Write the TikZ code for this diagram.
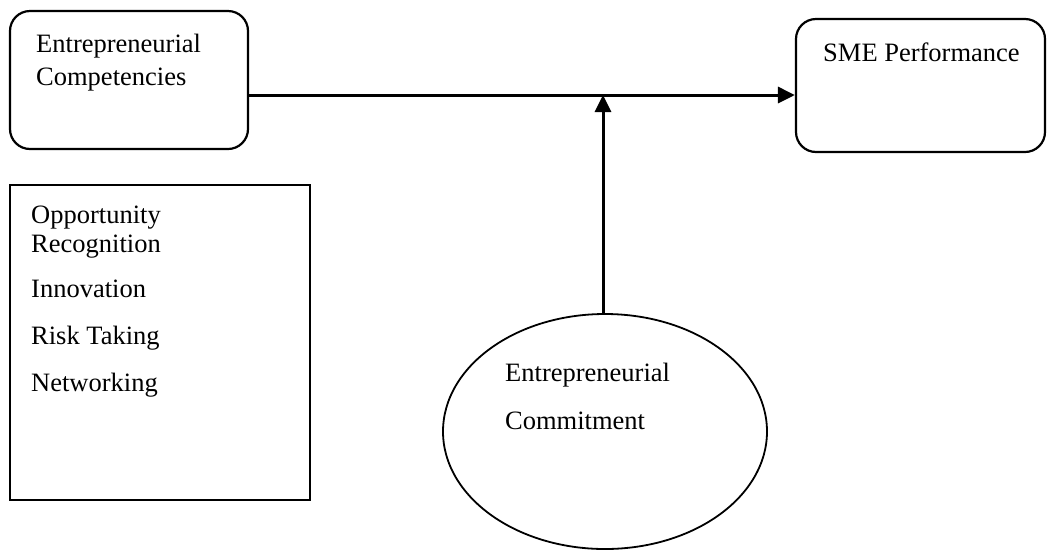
\documentclass[tikz,border=0pt]{standalone}
\usepackage{fontspec}
\setmainfont{Liberation Serif}
\usetikzlibrary{arrows.meta,shapes.geometric}

\tikzset{
  roundbox/.style={draw, line width=2.2pt, rounded corners=20pt, inner sep=0pt},
  listbox/.style={draw, line width=2.6pt, inner sep=0pt},
  oval/.style={draw, ellipse, line width=1.8pt, inner sep=0pt},
  txt/.style={anchor=base west, inner sep=0pt, font=\fontsize{26.5}{30}\selectfont},
  link/.style={line width=3pt, -{Triangle[length=17pt,width=16pt]}}
}

\begin{document}
\begin{tikzpicture}[x=1pt,y=-1pt]
  \useasboundingbox (0,0) rectangle (1047,550);

  % main shapes
  \node[roundbox, minimum width=238pt, minimum height=138pt] (ec) at (129,80) {};
  \node[roundbox, minimum width=249pt, minimum height=133pt] (sme) at (920.5,85.5) {};
  \node[listbox, minimum width=300pt, minimum height=315pt] (dims) at (160,342.5) {};
  \node[oval, minimum width=324pt, minimum height=235pt] (com) at (605,431.5) {};

  % labels
  \node[txt] (ec1) at (36,52) {Entrepreneurial};
  \node[txt] (ec2) at (36,85) {Competencies};
  \node[txt] (sm1) at (823,61) {SME Performance};
  \node[txt] (d1) at (31,223) {Opportunity};
  \node[txt] (d2) at (31,252) {Recognition};
  \node[txt] (d3) at (31,297) {Innovation};
  \node[txt] (d4) at (31,344) {Risk Taking};
  \node[txt] (d5) at (31,391) {Networking};
  \node[txt] (c1) at (505,381) {Entrepreneurial};
  \node[txt] (c2) at (505,429) {Commitment};

  % connectors
  \coordinate (j) at (603,95);
  \draw[link] (ec.east |- j) -- (sme.west |- j);
  \draw[link] (com.north -| j) -- (j);
\end{tikzpicture}
\end{document}
